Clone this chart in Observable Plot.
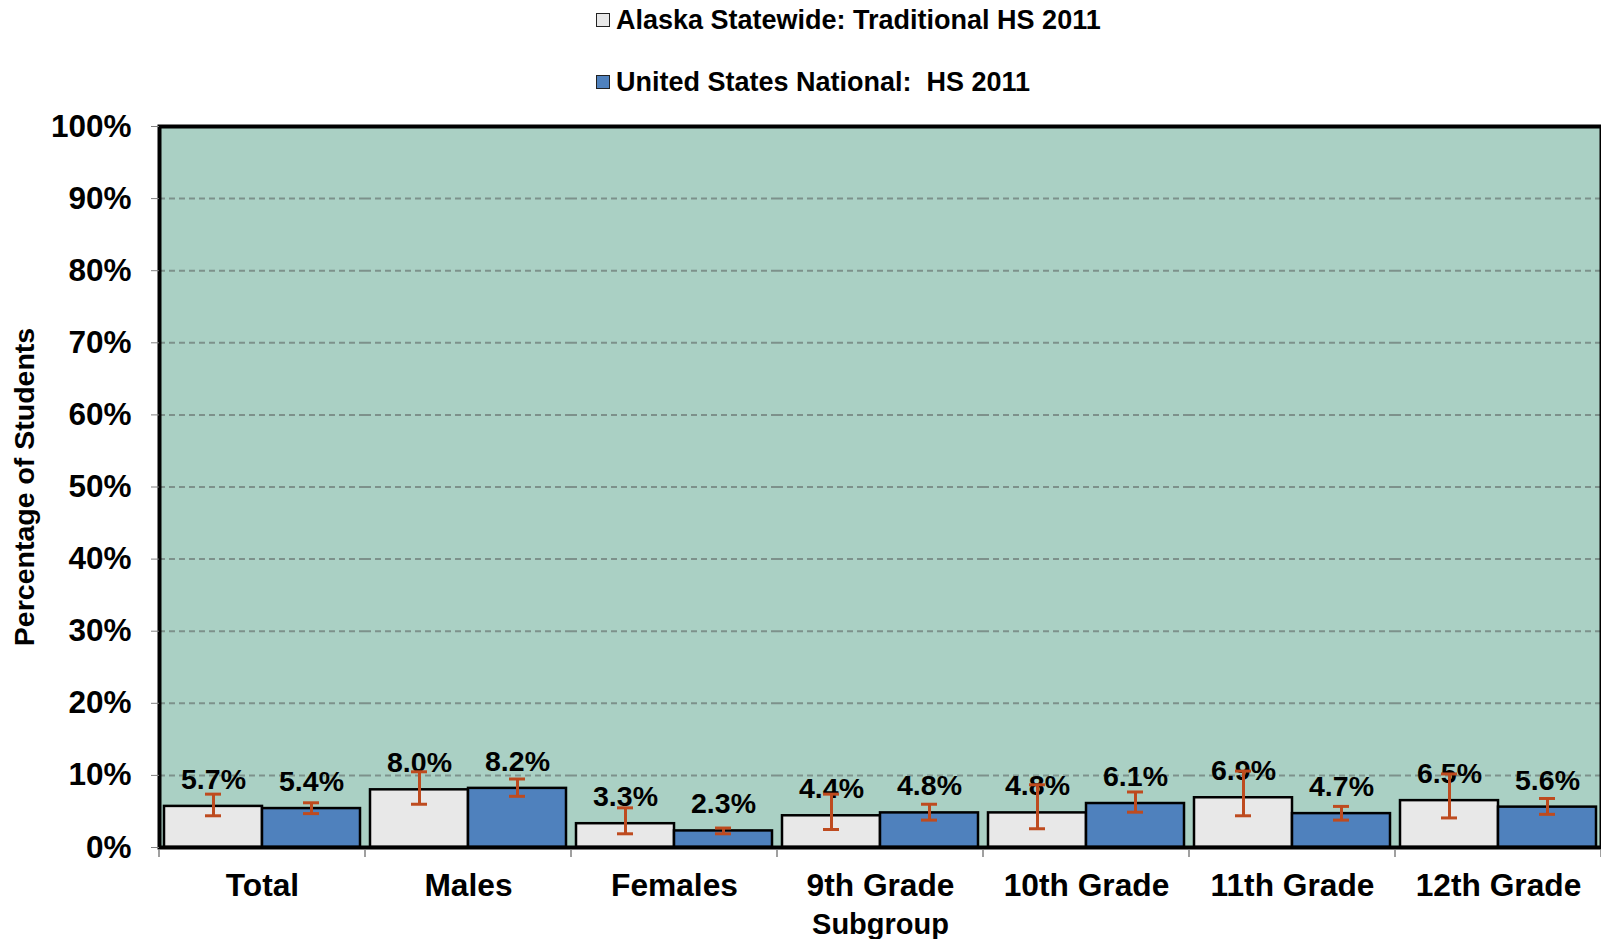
<!DOCTYPE html>
<html><head><meta charset="utf-8">
<script src="https://cdn.jsdelivr.net/npm/d3@7"></script>
<script src="https://cdn.jsdelivr.net/npm/@observablehq/plot@0.6"></script>
<style>
html,body{margin:0;padding:0;background:#fff;overflow:hidden}
#wrap{position:relative;width:1601px;height:939px;font-family:"Liberation Sans",Arial,sans-serif}
#wrap svg{position:absolute;left:0;top:0}
.leg{position:absolute;left:596px;display:flex;align-items:center;font-weight:bold;font-size:27px;color:#000;white-space:pre;height:30px;z-index:2}
.sw{width:12px;height:12px;border:1.5px solid #222;margin-right:6px}
g[aria-label="y-axis label"]{font-size:28.5px}
g[aria-label="fx-axis label"]{font-size:29px}
</style></head><body><div id="wrap"></div>
<script>
const categories = ["Total", "Males", "Females", "9th Grade", "10th Grade", "11th Grade", "12th Grade"];
const seriesNames = ["Alaska Statewide: Traditional HS 2011", "United States National:  HS 2011"];
const alaska   = [5.7, 8.0, 3.3, 4.4, 4.8, 6.9, 6.5];
const alaskaLo = [4.4, 6.0, 1.9, 2.5, 2.6, 4.4, 4.1];
const alaskaHi = [7.4, 10.5, 5.5, 7.4, 8.7, 10.6, 10.2];
const us       = [5.4, 8.2, 2.3, 4.8, 6.1, 4.7, 5.6];
const usLo     = [4.7, 7.1, 1.9, 3.8, 4.9, 3.8, 4.6];
const usHi     = [6.2, 9.5, 2.7, 6.0, 7.7, 5.7, 6.8];
const yTicks   = [0, 10, 20, 30, 40, 50, 60, 70, 80, 90, 100];
const gridTicks = [10, 20, 30, 40, 50, 60, 70, 80, 90];

const seriesColors = ["#e8e8e8", "#4f81bd"];
const bgColor = "#aad0c4";
const errColor = "#be4b1f";

const data = categories.flatMap((c, i) => [
  {cat: c, series: seriesNames[0], value: alaska[i], lo: alaskaLo[i], hi: alaskaHi[i]},
  {cat: c, series: seriesNames[1], value: us[i], lo: usLo[i], hi: usHi[i]}
]);

const wrap = document.getElementById("wrap");

const plot = Plot.plot({
  width: 1601, height: 939,
  marginTop: 126, marginBottom: 92, marginLeft: 156, marginRight: -3,
  style: {fontFamily: "'Liberation Sans', Arial, sans-serif", fontWeight: "bold", color: "black", background: "white"},
  fx: {domain: categories, padding: 0},
  x: {domain: seriesNames, paddingInner: 0, paddingOuter: 0.0508, axis: null},
  y: {domain: [0, 100]},
  color: {domain: seriesNames, range: seriesColors},
  marks: [
    Plot.frame({fill: bgColor, facet: "super"}),
    Plot.ruleY(gridTicks, {stroke: "#7d918b", strokeWidth: 2, strokeDasharray: "6,4"}),
    Plot.barY(data, {fx: "cat", x: "series", y: "value", fill: "series", stroke: "black", strokeWidth: 2.5}),
    Plot.text(data, {fx: "cat", x: "series", y: "value", text: d => d.value.toFixed(1) + "%", dy: -17.5, lineAnchor: "bottom", fontSize: 28.5, fontWeight: "bold", fill: "black"}),
    Plot.ruleX(data, {fx: "cat", x: "series", y1: "lo", y2: "hi", stroke: errColor, strokeWidth: 3}),
    Plot.tickY(data, {fx: "cat", x: "series", y: "lo", insetLeft: 41, insetRight: 41, stroke: errColor, strokeWidth: 3}),
    Plot.tickY(data, {fx: "cat", x: "series", y: "hi", insetLeft: 41, insetRight: 41, stroke: errColor, strokeWidth: 3}),
    Plot.frame({stroke: "black", strokeWidth: 4, facet: "super"}),
    Plot.axisY({ticks: yTicks, tickFormat: d => d + "%", tickSize: 8, tickPadding: 20, fontSize: 31.5, fontWeight: "bold", stroke: "#808080", fill: "black",
      label: "Percentage of Students", labelArrow: "none", labelAnchor: "center", labelOffset: 146}),
    Plot.axisFx({anchor: "bottom", tickSize: 0, tickPadding: 26, fontSize: 31.7, fontWeight: "bold", fill: "black",
      label: "Subgroup", labelArrow: "none", labelAnchor: "center", labelOffset: 86})
  ]
});
wrap.appendChild(plot);

// group boundary ticks below the category axis
const fx = plot.scale("fx");
const y = plot.scale("y");
const bounds = categories.map(c => fx.apply(c));
bounds.push(fx.apply(categories[categories.length - 1]) + fx.bandwidth);
const y0 = y.apply(0);
d3.select(plot).append("g").selectAll("line").data(bounds).join("line")
  .attr("x1", d => d).attr("x2", d => d)
  .attr("y1", y0 + 2).attr("y2", y0 + 10)
  .attr("stroke", "#808080").attr("stroke-width", 1.5);

// legend
const legendTops = [5, 67];
seriesNames.forEach((s, i) => {
  const row = document.createElement("div");
  row.className = "leg";
  row.style.top = legendTops[i] + "px";
  const sw = document.createElement("span");
  sw.className = "sw";
  sw.style.background = seriesColors[i];
  const t = document.createElement("span");
  t.textContent = s;
  row.appendChild(sw); row.appendChild(t);
  wrap.appendChild(row);
});
</script></body></html>
